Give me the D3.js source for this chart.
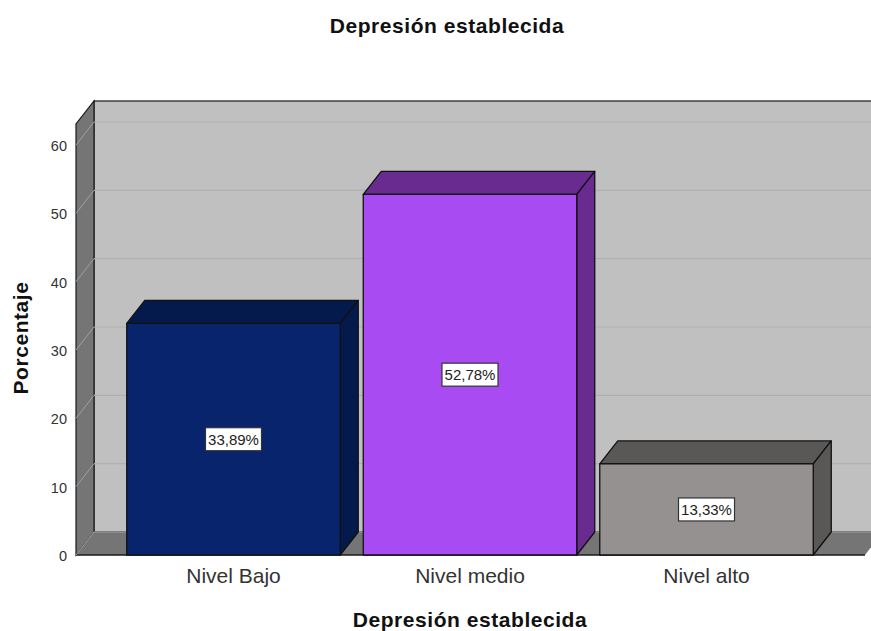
<!DOCTYPE html>
<html>
<head>
<meta charset="utf-8">
<script src="https://cdnjs.cloudflare.com/ajax/libs/d3/7.8.5/d3.min.js"></script>
<style>
  html, body { margin: 0; padding: 0; background: #fff; }
  svg { display: block; }
  text { font-family: "Liberation Sans", Arial, sans-serif; }
</style>
</head>
<body>
<svg id="chart" width="871" height="631"></svg>
<script>
// Chart content
const chartTitle = "Depresión establecida";
const xTitle = "Depresión establecida";
const yTitle = "Porcentaje";
const categories = ["Nivel Bajo", "Nivel medio", "Nivel alto"];
const percentages = [33.89, 52.78, 13.33];
const valueLabels = ["33,89%", "52,78%", "13,33%"];
const yTicks = [0, 10, 20, 30, 40, 50, 60];
const faceColors = ["#08246c", "#a94bf3", "#959190"];
const shadeColors = ["#041a4c", "#6a2b90", "#5a5856"];

// Oblique projection: how far the rear plane is shifted from the front plane
const depthX = 18, depthY = -23;
const floorY = 555, ceilingY = 124;
const wallLeft = 76, wallRight = 865;

const svg = d3.select("#chart");

const y = d3.scaleLinear().domain([0, 63.07]).range([floorY, ceilingY]);
const x = d3.scaleBand()
  .domain(categories)
  .range([115.25, 824.75])
  .paddingInner(0.0973)
  .paddingOuter(0.0486);

const poly = pts => pts.map(p => p.join(",")).join(" ");

// Back wall
svg.append("rect")
  .attr("x", wallLeft + depthX).attr("y", ceilingY + depthY)
  .attr("width", wallRight - wallLeft).attr("height", floorY - ceilingY)
  .attr("fill", "#c0c0c0").attr("stroke", "#1a1a1a").attr("stroke-width", 1.2);

// Left wall
svg.append("polygon")
  .attr("points", poly([
    [wallLeft, floorY], [wallLeft, ceilingY],
    [wallLeft + depthX, ceilingY + depthY], [wallLeft + depthX, floorY + depthY]
  ]))
  .attr("fill", "#757575").attr("stroke", "#1a1a1a").attr("stroke-width", 1.2);

// Floor
svg.append("polygon")
  .attr("points", poly([
    [wallLeft, floorY], [wallLeft + depthX, floorY + depthY],
    [wallRight + depthX, floorY + depthY], [wallRight, floorY]
  ]))
  .attr("fill", "#757575");
svg.append("line")
  .attr("x1", wallLeft).attr("x2", wallRight)
  .attr("y1", floorY).attr("y2", floorY)
  .attr("stroke", "#1a1a1a").attr("stroke-width", 1.4);

// Gridlines on the rear and side walls
svg.append("g").selectAll("line").data(yTicks).join("line")
  .attr("x1", wallLeft + depthX).attr("x2", wallRight + depthX)
  .attr("y1", d => y(d) + depthY).attr("y2", d => y(d) + depthY)
  .attr("stroke", d => d === 0 ? "#a4a4a4" : "#b0b0b0").attr("stroke-width", 1.2);
svg.append("g").selectAll("line").data(yTicks).join("line")
  .attr("x1", wallLeft).attr("x2", wallLeft + depthX)
  .attr("y1", d => y(d)).attr("y2", d => y(d) + depthY)
  .attr("stroke", "#a0a0a0").attr("stroke-width", 1);

// Bars: top, side and front faces
const bars = svg.append("g").selectAll("g").data(categories).join("g");
const outline = { stroke: "#111", "stroke-width": 1.3, "stroke-linejoin": "round" };
const face = (sel, pts, fill) => {
  const p = sel.append("polygon").attr("points", pts).attr("fill", fill);
  Object.entries(outline).forEach(([k, v]) => p.attr(k, v));
};
bars.each(function (c, i) {
  const g = d3.select(this);
  const x0 = x(c), x1 = x0 + x.bandwidth();
  const top = y(percentages[i]);
  face(g, poly([[x0, top], [x0 + depthX, top + depthY], [x1 + depthX, top + depthY], [x1, top]]), shadeColors[i]);
  face(g, poly([[x1, top], [x1 + depthX, top + depthY], [x1 + depthX, floorY + depthY], [x1, floorY]]), shadeColors[i]);
  face(g, poly([[x0, top], [x1, top], [x1, floorY], [x0, floorY]]), faceColors[i]);
});

// Value labels centred on each front face
const labels = svg.append("g").selectAll("g").data(categories).join("g")
  .attr("transform", (c, i) =>
    `translate(${x(c) + x.bandwidth() / 2},${(y(percentages[i]) + floorY) / 2})`);
labels.append("rect")
  .attr("x", -28).attr("y", -11.5).attr("width", 56).attr("height", 23)
  .attr("fill", "#fff").attr("stroke", "#333").attr("stroke-width", 1.2);
labels.append("text")
  .attr("text-anchor", "middle").attr("y", 5.5)
  .attr("font-size", 15).attr("fill", "#222")
  .text((c, i) => valueLabels[i]);

// Value axis
const yAxis = svg.append("g")
  .attr("transform", `translate(${wallLeft},0)`)
  .call(d3.axisLeft(y).tickValues(yTicks).tickSize(0).tickPadding(9));
yAxis.select(".domain").remove();
yAxis.selectAll("text")
  .attr("font-size", 14.5).attr("fill", "#333").attr("dy", "0.38em")
  .style("font-family", '"Liberation Sans", Arial, sans-serif');

// Category axis
const xAxis = svg.append("g")
  .attr("transform", `translate(0,${floorY})`)
  .call(d3.axisBottom(x).tickSize(0).tickPadding(13));
xAxis.select(".domain").remove();
xAxis.selectAll("text")
  .attr("font-size", 21).attr("fill", "#333")
  .style("font-family", '"Liberation Sans", Arial, sans-serif');

// Titles
const boldTitle = sel => sel
  .attr("text-anchor", "middle").attr("font-size", 21).attr("font-weight", "bold")
  .attr("letter-spacing", 0.55).attr("fill", "#111");
svg.append("text").attr("x", 447).attr("y", 33).call(boldTitle).text(chartTitle);
svg.append("text").attr("x", 470).attr("y", 627).call(boldTitle).text(xTitle);
svg.append("text")
  .attr("transform", "translate(28,338) rotate(-90)")
  .call(boldTitle).text(yTitle);
</script>
</body>
</html>
